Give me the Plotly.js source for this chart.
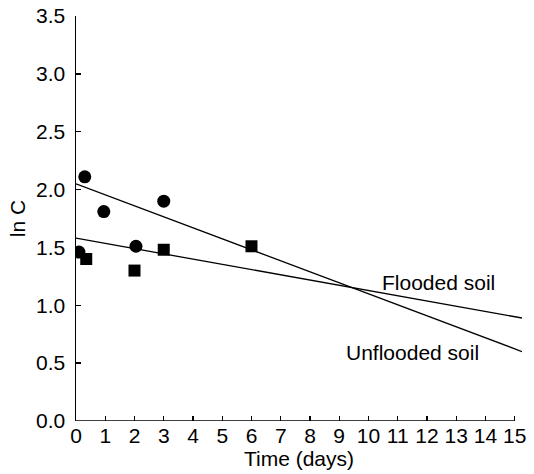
<!DOCTYPE html>
<html>
<head>
<meta charset="utf-8">
<script src="https://cdn.plot.ly/plotly-3.0.1.min.js"></script>
<style>html,body{margin:0;padding:0;background:#fff;}#chart{width:534px;height:474px;}</style>
</head>
<body>
<div id="chart"></div>
<script>
// Data
const unfloodedDays = [0.1, 0.3, 0.95, 2.05, 3.0];
const unfloodedLnC  = [1.46, 2.11, 1.81, 1.51, 1.90];
const floodedDays   = [0.35, 2.0, 3.0, 6.0];
const floodedLnC    = [1.40, 1.30, 1.48, 1.51];
const fitDays       = [0, 15.25];
const unfloodedFit  = [2.05, 0.60];
const floodedFit    = [1.58, 0.89];
const xTicks = [0,1,2,3,4,5,6,7,8,9,10,11,12,13,14,15];
const yTicks = [0,0.5,1,1.5,2,2.5,3,3.5];
const yTickText = ['0.0','0.5','1.0','1.5','2.0','2.5','3.0','3.5'];

const FONT = 'Liberation Sans, Arial, Helvetica, sans-serif';
const FS = 21;

const traces = [
  {x: fitDays, y: unfloodedFit, mode: 'lines', line: {color: '#000', width: 1.3}, hoverinfo: 'skip'},
  {x: fitDays, y: floodedFit, mode: 'lines', line: {color: '#000', width: 1.3}, hoverinfo: 'skip'},
  {x: unfloodedDays, y: unfloodedLnC, mode: 'markers', marker: {symbol: 'circle', size: 13, color: '#000'}},
  {x: floodedDays, y: floodedLnC, mode: 'markers', marker: {symbol: 'square', size: 12, color: '#000'}}
];

const layout = {
  width: 534, height: 474,
  margin: {l: 76, r: 12, t: 16, b: 53},
  paper_bgcolor: '#fff', plot_bgcolor: '#fff',
  showlegend: false,
  font: {family: FONT, size: FS, color: '#000'},
  xaxis: {
    range: [0, 15.25], tickvals: xTicks, ticktext: xTicks.map(String),
    ticks: 'inside', ticklen: 5, tickwidth: 1.3, tickcolor: '#000',
    showline: false, showgrid: false, zeroline: false,
    tickfont: {family: FONT, size: FS, color: '#000'},
    title: {text: 'Time (days)', font: {family: FONT, size: FS, color: '#000'}, standoff: 0}
  },
  yaxis: {
    range: [0, 3.5], tickvals: yTicks, ticktext: yTickText,
    ticks: 'inside', ticklen: 5, tickwidth: 1.3, tickcolor: '#000',
    showline: true, linecolor: '#000', linewidth: 1.5, mirror: false,
    showgrid: false, zeroline: false, ticklabelstandoff: 5,
    tickfont: {family: FONT, size: FS, color: '#000'},
    title: {text: 'ln C', font: {family: FONT, size: FS, color: '#000'}, standoff: 4}
  },
  shapes: [
    {type: 'line', xref: 'x', yref: 'y', x0: 0, x1: 15, y0: 0, y1: 0, line: {color: '#000', width: 1.5}}
  ],
  annotations: [
    {x: 12.4, y: 1.2, xref: 'x', yref: 'y', text: 'Flooded soil', showarrow: false, font: {family: FONT, size: FS, color: '#000'}},
    {x: 11.5, y: 0.59, xref: 'x', yref: 'y', text: 'Unflooded soil', showarrow: false, font: {family: FONT, size: FS, color: '#000'}}
  ]
};

Plotly.newPlot('chart', traces, layout, {displayModeBar: false, staticPlot: true});
</script>
</body>
</html>
